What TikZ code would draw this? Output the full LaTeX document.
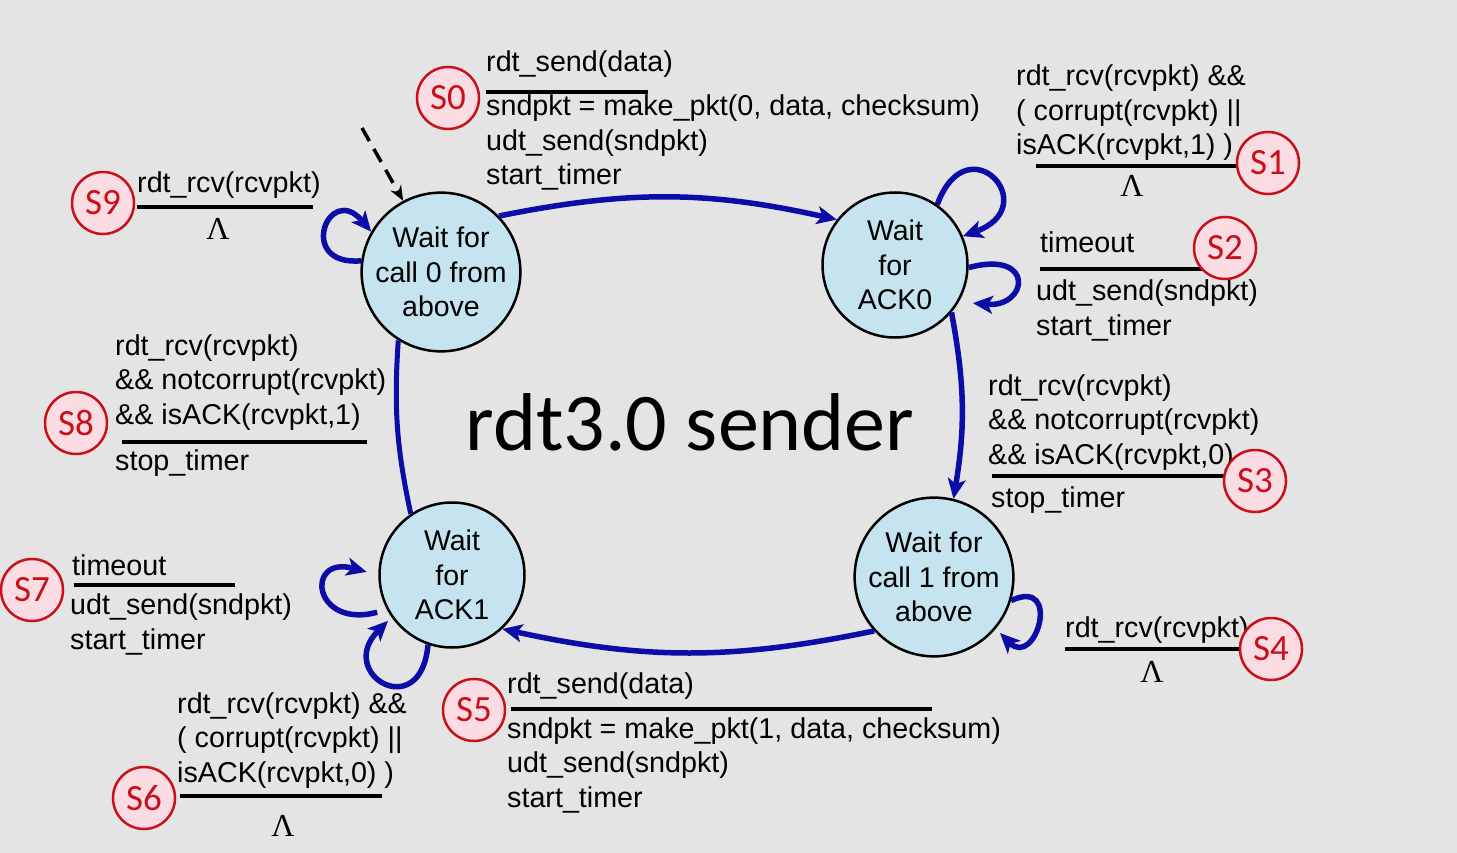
\documentclass[tikz,border=0pt]{standalone}
\usepackage{fontspec}
\setmainfont{Liberation Sans}
\newfontfamily\tagfont{Carlito}
\newfontfamily\lamfont{Liberation Serif}
\usetikzlibrary{arrows.meta}

\definecolor{bgray}{HTML}{E4E4E4}
\definecolor{statefill}{HTML}{C6E4EF}
\definecolor{edgeblue}{HTML}{0C0CA6}
\definecolor{tagred}{HTML}{C8101A}
\definecolor{tagpink}{HTML}{FBDCE3}

\begin{document}
\begin{tikzpicture}[
  x=1pt, y=1pt,
  state/.style={circle, draw, line width=2.5pt, fill=statefill, align=center, inner sep=0pt, font=\fontsize{28.5}{34.5}\selectfont},
  trans/.style={-{Stealth[length=20pt, width=18pt, inset=5pt]}, line width=5.5pt, draw=edgeblue},
  plain/.style={line width=5pt, draw=edgeblue},
  initarr/.style={-{Stealth[length=15pt, width=12pt]}, line width=3.5pt, dash pattern=on 15pt off 9pt},
  guard/.style={anchor=base west, align=left, inner sep=0pt, font=\fontsize{28.7}{34.5}\selectfont},
  bar/.style={line width=4pt},
  lam/.style={anchor=base, inner sep=0pt, font=\lamfont\fontsize{32}{36}\selectfont},
  tag/.style={circle, draw=tagred, fill=tagpink, text=tagred, line width=2.5pt, minimum size=62pt, inner sep=0pt, font=\tagfont\fontsize{37}{40}\selectfont}
]

\fill[bgray] (0,0) rectangle (1457,-853);
\useasboundingbox (0,0) rectangle (1457,-853);

% --- States ---
\node[state, minimum size=156pt] (wcall0) at (441,-272) {Wait for\\call 0 from\\above};
\node[state, minimum size=145pt] (wack0) at (895,-265) {Wait\\for\\ACK0};
\node[state, minimum size=156pt] (wcall1) at (934,-577) {Wait for\\call 1 from\\above};
\node[state, minimum size=145pt] (wack1) at (452,-575) {Wait\\for\\ACK1};

\node[font=\tagfont\fontsize{82}{90}\selectfont] (title) at (690,-422) {rdt3.0 sender};

% --- Transitions ---
\coordinate (init) at (362,-128);
\draw[initarr] (init) -- (wcall0.118);
\draw[trans] (wcall0.44) to[bend left=12] (wack0.142);
\draw[trans] (wack0.-40) to[bend left=10] (wcall1.76);
\draw[trans] (wcall1.-138) to[bend left=12] (wack1.-47);
\draw[plain] (wack1.124) to[bend left=8] (wcall0.-122);

% --- Self loops ---
\draw[trans] (wcall0.172) to[out=185, in=130, looseness=5.5] (wcall0.150);
\draw[trans] (wack0.55) to[out=70, in=20, looseness=5.5] (wack0.23);
\draw[trans, shorten >=14pt] (wack0.-2) to[out=15, in=-5, looseness=5] (wack0.-30);
\draw[trans, shorten >=6pt] (wcall1.-17) to[out=25, in=-45, looseness=4.5] (wcall1.-40);
\draw[trans, shorten <=10pt, shorten >=12pt] (wack1.208) to[out=195, in=165, looseness=5.5] (wack1.180);
\draw[trans, shorten >=5pt] (wack1.251) to[out=-95, in=225, looseness=4.5] (wack1.215);

% --- Guards and actions ---
\node[guard] (s0evt) at (486,-72) {rdt\_send(data)};
\draw[bar] (486,-92) -- (648,-92);
\node[guard] (s0act) at (486,-185) {sndpkt = make\_pkt(0, data, checksum)\\udt\_send(sndpkt)\\start\_timer};

\node[guard] (s1evt) at (1016,-155) {rdt\_rcv(rcvpkt) \&\&\\( corrupt(rcvpkt) ||\\isACK(rcvpkt,1) )};
\draw[bar] (1036,-166) -- (1240,-166);
\node[lam] (s1act) at (1132,-197) {Λ};

\node[guard] (s2evt) at (1040,-253) {timeout};
\draw[bar] (1040,-269) -- (1205,-269);
\node[guard] (s2act) at (1036,-335) {udt\_send(sndpkt)\\start\_timer};

\node[guard] (s3evt) at (988,-464) {rdt\_rcv(rcvpkt)\\\&\& notcorrupt(rcvpkt)\\\&\& isACK(rcvpkt,0)};
\draw[bar] (992,-476) -- (1225,-476);
\node[guard] (s3act) at (991,-507) {stop\_timer};

\node[guard] (s4evt) at (1065,-637) {rdt\_rcv(rcvpkt)};
\draw[bar] (1065,-649) -- (1240,-649);
\node[lam] (s4act) at (1152,-682) {Λ};

\node[guard] (s5evt) at (507,-693) {rdt\_send(data)};
\draw[bar] (511,-709) -- (932,-709);
\node[guard] (s5act) at (507,-807) {sndpkt = make\_pkt(1, data, checksum)\\udt\_send(sndpkt)\\start\_timer};

\node[guard] (s6evt) at (177,-782) {rdt\_rcv(rcvpkt) \&\&\\( corrupt(rcvpkt) ||\\isACK(rcvpkt,0) )};
\draw[bar] (180,-796) -- (382,-796);
\node[lam] (s6act) at (283,-836) {Λ};

\node[guard] (s7evt) at (72,-575) {timeout};
\draw[bar] (74,-585) -- (235,-585);
\node[guard] (s7act) at (70,-649) {udt\_send(sndpkt)\\start\_timer};

\node[guard] (s8evt) at (115,-424) {rdt\_rcv(rcvpkt)\\\&\& notcorrupt(rcvpkt)\\\&\& isACK(rcvpkt,1)};
\draw[bar] (122,-442) -- (367,-442);
\node[guard] (s8act) at (115,-470) {stop\_timer};

\node[guard] (s9evt) at (137,-193) {rdt\_rcv(rcvpkt)};
\draw[bar] (137,-207) -- (313,-207);
\node[lam] (s9act) at (218,-240) {Λ};

% --- Tags ---
\node[tag] (tag0) at (448,-98) {S0};
\node[tag] (tag1) at (1268,-163) {S1};
\node[tag] (tag2) at (1225,-248) {S2};
\node[tag] (tag3) at (1255,-481) {S3};
\node[tag] (tag4) at (1271,-649) {S4};
\node[tag] (tag5) at (474,-710) {S5};
\node[tag] (tag6) at (144,-798) {S6};
\node[tag] (tag7) at (32,-590) {S7};
\node[tag] (tag8) at (76,-423) {S8};
\node[tag] (tag9) at (103,-203) {S9};

\end{tikzpicture}
\end{document}
